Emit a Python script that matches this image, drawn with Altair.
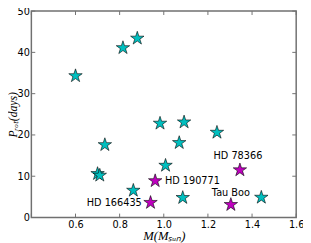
import altair as alt
import pandas as pd

# Data
cyan_mass = [0.60, 0.815, 0.88, 0.733, 0.70, 0.71, 0.862, 0.983, 1.092, 1.07, 1.241, 1.008, 1.086, 1.442]
cyan_prot = [34.3, 41.1, 43.4, 17.6, 10.6, 10.2, 6.55, 22.8, 23.1, 18.1, 20.6, 12.6, 4.8, 4.86]

named_star = ["HD 166435", "HD 190771", "HD 78366", "Tau Boo"]
named_mass = [0.94, 0.961, 1.345, 1.304]
named_prot = [3.6, 8.87, 11.5, 3.1]

x_ticks = [0.4, 0.6, 0.8, 1.0, 1.2, 1.4, 1.6]
x_labels = [0.6, 0.8, 1.0, 1.2, 1.4, 1.6]
y_ticks = [0, 10, 20, 30, 40, 50]

W, H = 272, 212
CYAN = "#00bfbf"
MAG = "#bf00bf"
FRAME = "#707070"
STAR = ("M0,-1L0.2245,-0.309L0.9511,-0.309L0.3633,0.118L0.5878,0.809L0,0.382"
        "L-0.5878,0.809L-0.3633,0.118L-0.9511,-0.309L-0.2245,-0.309Z")

cyan_df = pd.DataFrame({"mass": cyan_mass, "prot": cyan_prot})
named_df = pd.DataFrame({"name": named_star, "mass": named_mass, "prot": named_prot})
xt_df = pd.DataFrame({"v": x_ticks})
yt_df = pd.DataFrame({"v": y_ticks})

xscale = alt.Scale(domain=[0.4, 1.6], nice=False, zero=False)
yscale = alt.Scale(domain=[0, 50], nice=False)

xaxis = alt.Axis(
    orient="bottom",
    title="M(Mₛᵤₙ)", values=x_labels, format=".1f", grid=False, ticks=False,
    domain=False, labelFont="DejaVu Sans", labelFontSize=10, labelColor="black",
    labelPadding=2, titleFont="Liberation Serif", titleFontStyle="italic",
    titleFontWeight="normal", titleFontSize=13, titleColor="black",
    titleBaseline="top", titleY=13, labelFlush=False,
)
yaxis = alt.Axis(
    orient="left",
    title="Pᵣₒₜ(days)", values=y_ticks, grid=False, ticks=False, domain=False,
    labelFont="DejaVu Sans", labelFontSize=10, labelColor="black", labelPadding=2,
    titleFont="Liberation Serif", titleFontStyle="italic", titleFontWeight="normal",
    titleFontSize=12, titleColor="black", titleAngle=270, titleAlign="center",
    titleBaseline="middle", titleX=-19, titleY=H / 2, labelFlush=False,
)

cyan_pts = alt.Chart(cyan_df).mark_point(
    shape=STAR, filled=True, fill=CYAN, stroke="black", strokeWidth=0.6,
    size=210, opacity=1,
).encode(
    x=alt.X("mass:Q", scale=xscale, axis=xaxis),
    y=alt.Y("prot:Q", scale=yscale, axis=yaxis),
)

named_pts = alt.Chart(named_df).mark_point(
    shape=STAR, filled=True, fill=MAG, stroke="black", strokeWidth=0.6,
    size=210, opacity=1,
).encode(x=alt.X("mass:Q", scale=xscale, axis=xaxis),
         y=alt.Y("prot:Q", scale=yscale, axis=yaxis))

label_style = {
    "HD 166435": dict(align="right", dx=-9, dy=0),
    "HD 190771": dict(align="left", dx=10, dy=0),
    "HD 78366": dict(align="center", dx=-2, dy=-14),
    "Tau Boo": dict(align="center", dx=0, dy=-12),
}
labels = []
for nm, st in label_style.items():
    labels.append(
        alt.Chart(named_df).transform_filter(alt.datum.name == nm).mark_text(
            font="DejaVu Sans", fontSize=10, color="black", baseline="middle", **st
        ).encode(
            x=alt.X("mass:Q", scale=xscale, axis=xaxis),
            y=alt.Y("prot:Q", scale=yscale, axis=yaxis),
            text="name:N",
        )
    )

tick_color = FRAME
xt_bottom = alt.Chart(xt_df).mark_rule(color=tick_color, strokeWidth=1).encode(
    x=alt.X("v:Q", scale=xscale, axis=xaxis), y=alt.value(H), y2=alt.value(H - 4))
xt_top = alt.Chart(xt_df).mark_rule(color=tick_color, strokeWidth=1).encode(
    x=alt.X("v:Q", scale=xscale, axis=xaxis), y=alt.value(0), y2=alt.value(4))
yt_left = alt.Chart(yt_df).mark_rule(color=tick_color, strokeWidth=1).encode(
    y=alt.Y("v:Q", scale=yscale, axis=yaxis), x=alt.value(0), x2=alt.value(4))
yt_right = alt.Chart(yt_df).mark_rule(color=tick_color, strokeWidth=1).encode(
    y=alt.Y("v:Q", scale=yscale, axis=yaxis), x=alt.value(W), x2=alt.value(W - 4))

chart = alt.layer(
    cyan_pts, named_pts, xt_bottom, xt_top, yt_left, yt_right, *labels
).properties(
    width=W, height=H,
    autosize=alt.AutoSizeParams(type="none"),
    padding={"left": 24, "top": 0, "right": 7, "bottom": 23},
    background="white",
).configure_view(
    stroke=FRAME, strokeWidth=1.5,
)

chart.save("out.html", embed_options={"renderer": "svg", "actions": False})
